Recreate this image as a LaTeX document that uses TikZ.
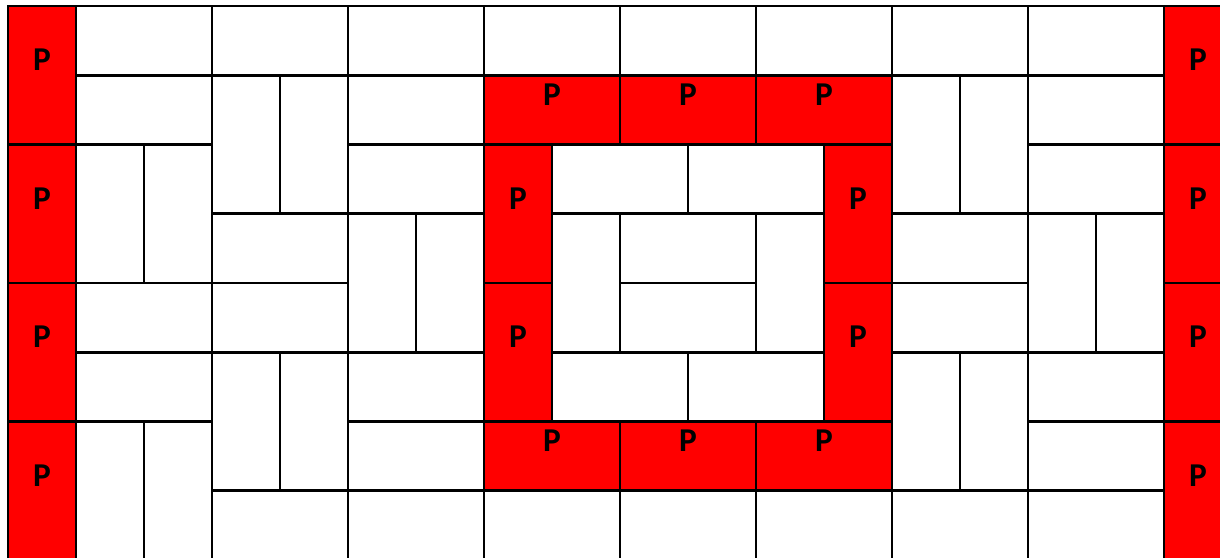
\documentclass[tikz,border=0pt]{standalone}
\usepackage{fontspec}
\setmainfont{Carlito}
\usetikzlibrary{positioning}
\definecolor{PlateRed}{HTML}{FF0000}

\tikzset{
  tile/.style={draw=black,line width=1.9pt},
  ptile/.style={tile,fill=PlateRed},
  plabel/.style={font=\bfseries\fontsize{25}{28}\selectfont,inner sep=0pt,yshift=11.6pt}
}

\begin{document}
\begin{tikzpicture}[x=51pt,y=-51.9375pt]
  \useasboundingbox (-0.1176,-0.0866) rectangle (17.8235,7.97);
  \clip (-0.1176,-0.0866) rectangle (17.8235,7.97);
  % white tiles, lying
  \foreach \c/\r in {1/0,3/0,5/0,7/0,9/0,11/0,13/0,15/0,
                     1/1,5/1,15/1, 5/2,8/2,10/2,15/2,
                     3/3,9/3,13/3, 1/4,3/4,9/4,13/4,
                     1/5,5/5,8/5,10/5,15/5, 5/6,15/6,
                     3/7,5/7,7/7,9/7,11/7,13/7,15/7}
    \draw[tile] (\c,\r) rectangle ++(2,1);
  % white tiles, standing
  \foreach \c/\r in {3/1,4/1,13/1,14/1, 1/2,2/2,
                     5/3,6/3,8/3,11/3,15/3,16/3,
                     3/5,4/5,13/5,14/5, 1/6,2/6}
    \draw[tile] (\c,\r) rectangle ++(1,2);
  % red tiles, standing
  \foreach \c/\r in {0/0,0/2,0/4,0/6, 17/0,17/2,17/4,17/6,
                     7/2,7/4, 12/2,12/4} {
    \draw[ptile] (\c,\r) rectangle ++(1,2);
    \node[plabel] (pv\c-\r) at (\c+0.5,\r+1) {P};
  }
  % red tiles, lying
  \foreach \c/\r in {7/1,9/1,11/1, 7/6,9/6,11/6} {
    \draw[ptile] (\c,\r) rectangle ++(2,1);
    \node[plabel] (ph\c-\r) at (\c+1,\r+0.5) {P};
  }
\end{tikzpicture}
\end{document}
